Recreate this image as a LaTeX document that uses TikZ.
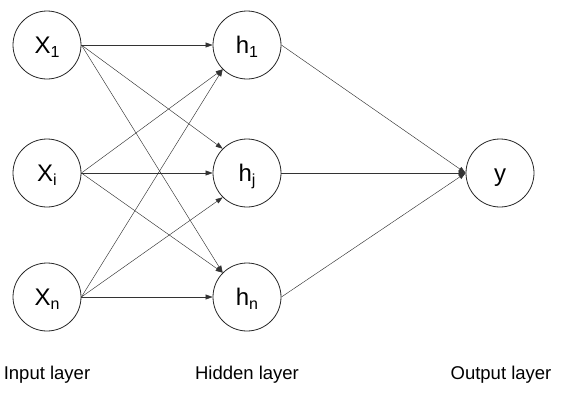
\documentclass[tikz,border=0pt]{standalone}
\usepackage{fontspec}
\setmainfont{Liberation Sans}
\usetikzlibrary{arrows.meta}
\newcommand{\nlab}[2]{{\fontsize{24}{24}\selectfont #1}\raisebox{-4.5pt}{\fontsize{16}{16}\selectfont #2}}
\begin{document}
\begin{tikzpicture}[x=1pt,y=-1pt,
  neuron/.style={circle,draw=black!85,line width=0.8pt,minimum size=68pt,inner sep=0pt,text height=16pt,text depth=0pt,font=\fontsize{24}{24}\selectfont},
  conn/.style={draw=black!80,line width=0.45pt,-{Triangle[length=7pt,width=5pt]}},
  layerlab/.style={font=\fontsize{18.5}{18.5}\selectfont,inner sep=0pt}]
\useasboundingbox (0,0) rectangle (566,400);
\node[neuron] (x1) at (47,45) {\nlab{X}{1}};
\node[neuron] (xi) at (47,173) {\nlab{X}{i}};
\node[neuron] (xn) at (47,297) {\nlab{X}{n}};
\node[neuron] (h1) at (247,45) {\nlab{h}{1}};
\node[neuron] (hj) at (247,173) {\nlab{h}{j}};
\node[neuron] (hn) at (247,297) {\nlab{h}{n}};
\node[neuron] (y) at (500,173) {y};
% input to hidden
\draw[conn] (x1.east) -- (h1.west);
\draw[conn] (x1.east) -- (hj.north west);
\draw[conn] (x1.east) -- (hn.north west);
\draw[conn] (xi.east) -- (h1.south west);
\draw[conn] (xi.east) -- (hj.west);
\draw[conn] (xi.east) -- (hn.north west);
\draw[conn] (xn.east) -- (h1.south west);
\draw[conn] (xn.east) -- (hj.south west);
\draw[conn] (xn.east) -- (hn.west);
% hidden to output
\draw[conn] (h1.east) -- (y.west);
\draw[conn] (hj.east) -- (y.west);
\draw[conn] (hn.east) -- (y.west);
% labels
\node[layerlab] (lin) at (47,375) {Input layer};
\node[layerlab] (lhid) at (247,375) {Hidden layer};
\node[layerlab] (lout) at (501,375) {Output layer};
\end{tikzpicture}
\end{document}
